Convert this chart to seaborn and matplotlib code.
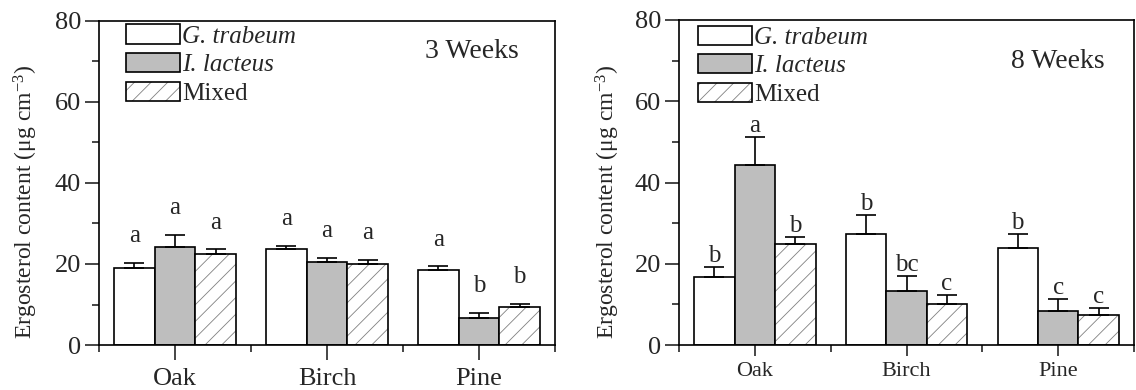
import numpy as np
import pandas as pd
import matplotlib
matplotlib.use('Agg')
import matplotlib.pyplot as plt
import matplotlib.colors as mcolors
from matplotlib.ticker import MultipleLocator, FixedLocator
import seaborn as sns

# data
woods = ['Oak', 'Birch', 'Pine']
fungi = ['G. trabeum', 'I. lacteus', 'Mixed']

# 3 weeks (mean per fungus, ordered Oak, Birch, Pine)
w3_gt = [19.0, 23.6, 18.4]
w3_il = [24.2, 20.6, 6.7]
w3_mx = [22.5, 20.1, 9.3]
w3_gt_err = [1.2, 0.8, 1.0]
w3_il_err = [3.0, 0.9, 1.2]
w3_mx_err = [1.1, 1.0, 0.9]
w3_letters = [['a', 'a', 'a'], ['a', 'a', 'a'], ['a', 'b', 'b']]

# 8 weeks
w8_gt = [16.8, 27.4, 23.8]
w8_il = [44.3, 13.4, 8.3]
w8_mx = [24.8, 10.0, 7.4]
w8_gt_err = [2.4, 4.5, 3.6]
w8_il_err = [6.9, 3.7, 3.1]
w8_mx_err = [1.8, 2.4, 1.8]
w8_letters = [['b', 'a', 'b'], ['b', 'bc', 'c'], ['b', 'c', 'c']]

sns.set_style('ticks')
plt.rcParams['font.family'] = ['Liberation Serif', 'DejaVu Serif']
plt.rcParams['mathtext.fontset'] = 'custom'
plt.rcParams['mathtext.rm'] = 'Liberation Serif'
plt.rcParams['mathtext.it'] = 'Liberation Serif:italic'
plt.rcParams['hatch.linewidth'] = 0.6

GRAY = '#bebebe'
HATCH_COL = '#808080'


def make_df(gt, il, mx):
    rows = []
    for name, vals in zip(fungi, [gt, il, mx]):
        for w, v in zip(woods, vals):
            rows.append({'wood': w, 'fungus': name, 'value': v})
    return pd.DataFrame(rows)


def panel(ax, df, errs, letters, title, letter_off, leg_anchor, title_pos, label_coords,
          xsize, xlen, xpad):
    sns.barplot(data=df, x='wood', y='value', hue='fungus', order=woods, hue_order=fungi,
                palette=['white', GRAY, 'white'], saturation=1, edgecolor='black',
                linewidth=1.2, errorbar=None, legend=False, ax=ax)
    bars = list(ax.containers[:3])
    for p in bars[2].patches:
        p.set_hatch('//')
        if hasattr(p, 'set_hatchcolor'):
            p.set_hatchcolor(HATCH_COL)
        else:
            p._hatch_color = mcolors.to_rgba(HATCH_COL)

    for k, cont in enumerate(bars):
        xs = [p.get_x() + p.get_width() / 2 for p in cont.patches]
        ys = [p.get_height() for p in cont.patches]
        e = errs[k]
        ax.errorbar(xs, ys, yerr=[np.zeros(len(e)), e], fmt='none', ecolor='black',
                    elinewidth=1.2, capsize=7, capthick=1.2, zorder=1)
        for j in range(len(xs)):
            ax.annotate(letters[j][k], (xs[j], ys[j] + e[j]), xytext=(0, letter_off),
                        textcoords='offset points', ha='center', va='baseline', fontsize=18)

    ax.set_ylim(0, 80)
    ax.set_xlim(-0.5, 2.5)
    ax.yaxis.set_major_locator(MultipleLocator(20))
    ax.yaxis.set_minor_locator(MultipleLocator(10))
    ax.xaxis.set_minor_locator(FixedLocator([-0.5, 0.5, 1.5, 2.5]))
    ax.tick_params(which='major', direction='out', width=1.2, top=False, right=False)
    ax.tick_params(axis='y', which='major', length=10, labelsize=19, pad=3)
    ax.tick_params(axis='x', which='major', length=xlen, labelsize=xsize, pad=xpad)
    ax.tick_params(which='minor', direction='out', length=5, width=1.2, top=False, right=False)
    for s in ax.spines.values():
        s.set_visible(True)
        s.set_linewidth(1.2)
        s.set_color('black')
    ax.set_xlabel('')
    ax.set_ylabel('Ergosterol content (μg cm$^{-3}$)', fontsize=17)
    ax.yaxis.set_label_coords(*label_coords)

    handles = [c.patches[0] for c in bars]
    leg = ax.legend(handles, fungi, loc='upper left', bbox_to_anchor=leg_anchor, frameon=False,
                    fontsize=18, borderpad=0, borderaxespad=0, handlelength=2.16,
                    handleheight=0.8, handletextpad=0.1, labelspacing=0.22)
    leg.get_texts()[0].set_fontstyle('italic')
    leg.get_texts()[1].set_fontstyle('italic')

    ax.text(title_pos[0], title_pos[1], title, transform=ax.transAxes, ha='center',
            va='center', fontsize=20)


fig = plt.figure(figsize=(11.36, 3.9), dpi=100)
ax1 = fig.add_axes([99 / 1136, 1 - 345 / 390, (555 - 99) / 1136, (345 - 21) / 390])
ax2 = fig.add_axes([679 / 1136, 1 - 345 / 390, (1134 - 679) / 1136, (345 - 20) / 390])

panel(ax1, make_df(w3_gt, w3_il, w3_mx), [w3_gt_err, w3_il_err, w3_mx_err], w3_letters,
      '3 Weeks', 15, (27 / 456, 1 - 3.5 / 324), (0.818, 0.907), (-0.129, 0.44),
      19, 11, 5.8)
panel(ax2, make_df(w8_gt, w8_il, w8_mx), [w8_gt_err, w8_il_err, w8_mx_err], w8_letters,
      '8 Weeks', 3.6, (19 / 455, 1 - 5.5 / 325), (0.833, 0.871), (-0.125, 0.44),
      16, 8, 4.3)

fig.savefig('out.png', dpi=100)
